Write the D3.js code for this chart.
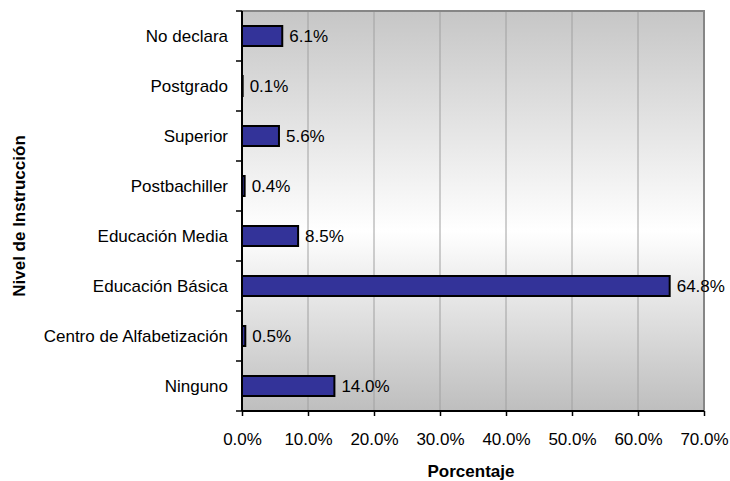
<!DOCTYPE html>
<html>
<head>
<meta charset="utf-8">
<script src="https://cdn.jsdelivr.net/npm/d3@7"></script>
<style>
  body { margin: 0; background: #fff; }
  svg { font-family: "Liberation Sans", Arial, sans-serif; }
</style>
</head>
<body>
<div class="chart"></div>
<script>
const categories = [
  "No declara",
  "Postgrado",
  "Superior",
  "Postbachiller",
  "Educación Media",
  "Educación Básica",
  "Centro de Alfabetización",
  "Ninguno",
];
const values = [6.1, 0.1, 5.6, 0.4, 8.5, 64.8, 0.5, 14.0];
const xTicks = [0, 10, 20, 30, 40, 50, 60, 70];

const WIDTH = 730;
const HEIGHT = 481;
const LEFT = 242;
const RIGHT = 704;
const TOP = 11;
const BOTTOM = 411;
const FONT = "17px";

const svg = d3.create("svg").attr("width", WIDTH).attr("height", HEIGHT);

const grad = svg.append("defs").append("linearGradient")
  .attr("id", "bg").attr("x1", 0).attr("y1", 0).attr("x2", 0).attr("y2", 1);
grad.append("stop").attr("offset", "0%").attr("stop-color", "#c6c6c6");
grad.append("stop").attr("offset", "55%").attr("stop-color", "#ffffff");
grad.append("stop").attr("offset", "100%").attr("stop-color", "#bebebe");

const x = d3.scaleLinear().domain([0, 70]).range([LEFT, RIGHT]);
const y = d3.scaleBand().domain(categories).range([TOP, BOTTOM]).paddingInner(0.6).paddingOuter(0.3);

// plot background
svg.append("rect")
  .attr("x", LEFT).attr("y", TOP)
  .attr("width", RIGHT - LEFT).attr("height", BOTTOM - TOP)
  .style("fill", "url(#bg)");

// gridlines
svg.append("g")
  .selectAll("line")
  .data(xTicks.slice(1, -1))
  .join("line")
  .attr("x1", (d) => x(d)).attr("x2", (d) => x(d))
  .attr("y1", TOP).attr("y2", BOTTOM)
  .style("stroke", "#a0a0a0").style("stroke-width", 1);

// top + right border
svg.append("path")
  .attr("d", `M${LEFT},${TOP}H${RIGHT}V${BOTTOM}`)
  .style("fill", "none").style("stroke", "#868686").style("stroke-width", 2);

// bars
svg.append("g")
  .selectAll("rect")
  .data(values)
  .join("rect")
  .attr("x", x(0))
  .attr("y", (d, i) => y(categories[i]))
  .attr("width", (d) => x(d) - x(0))
  .attr("height", y.bandwidth())
  .style("fill", "#333399")
  .style("stroke", "#000")
  .style("stroke-width", 2);

// value labels
svg.append("g")
  .selectAll("text")
  .data(values)
  .join("text")
  .attr("x", (d) => x(d) + 7)
  .attr("y", (d, i) => y(categories[i]) + y.bandwidth() / 2 + 6)
  .style("font-size", FONT)
  .style("fill", "#000")
  .text((d) => d.toFixed(1) + "%");

// x axis
const xAxis = svg.append("g")
  .attr("transform", `translate(0, ${BOTTOM})`)
  .call(d3.axisBottom(x).tickValues(xTicks).tickSize(5).tickPadding(17).tickFormat((d) => d.toFixed(1) + "%"));
xAxis.select(".domain").style("stroke", "#000").style("stroke-width", 2).attr("d", `M${LEFT},0H${RIGHT}`);
xAxis.selectAll(".tick line").style("stroke", "#000").style("stroke-width", 1.5);
xAxis.selectAll("text").style("font-size", FONT).style("font-family", "Liberation Sans, Arial, sans-serif").style("fill", "#000");

// y axis with ticks at band boundaries
const yAxis = svg.append("g").attr("transform", `translate(${LEFT}, 0)`);
yAxis.append("line")
  .attr("x1", 0).attr("x2", 0).attr("y1", TOP).attr("y2", BOTTOM)
  .style("stroke", "#000").style("stroke-width", 2);
const step = (BOTTOM - TOP) / categories.length;
yAxis.selectAll(".bt")
  .data(d3.range(categories.length + 1))
  .join("line")
  .attr("x1", -6).attr("x2", 0)
  .attr("y1", (i) => TOP + i * step).attr("y2", (i) => TOP + i * step)
  .style("stroke", "#000").style("stroke-width", 1.5);
yAxis.selectAll("text")
  .data(categories)
  .join("text")
  .attr("x", -14)
  .attr("y", (d) => y(d) + y.bandwidth() / 2 + 6)
  .attr("text-anchor", "end")
  .style("font-size", FONT)
  .style("fill", "#000")
  .text((d) => d);

// axis titles
svg.append("text")
  .attr("transform", `translate(25, 216) rotate(-90)`)
  .attr("text-anchor", "middle")
  .style("font-size", FONT).style("font-weight", "bold")
  .text("Nivel de Instrucción");

svg.append("text")
  .attr("x", 471).attr("y", 477)
  .attr("text-anchor", "middle")
  .style("font-size", FONT).style("font-weight", "bold")
  .text("Porcentaje");

document.querySelector(".chart").append(svg.node());
</script>
</body>
</html>
